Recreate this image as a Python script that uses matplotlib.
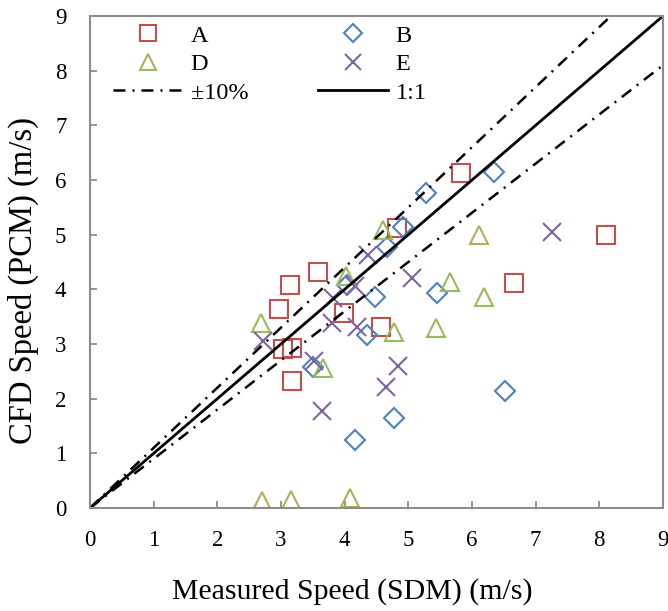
#!/usr/bin/python3

import matplotlib
matplotlib.use('Agg')
import matplotlib.pyplot as plt
import numpy as np

########################################################################################
# data (measured vs CFD speed, m/s)
a_x = [2.97, 3.14, 3.58, 3.03, 3.17, 3.17, 3.99, 4.57, 4.82, 5.83, 8.10, 6.66]
a_y = [3.64, 4.08, 4.31, 2.91, 2.93, 2.32, 3.56, 3.31, 5.12, 6.12, 4.99, 4.11]

b_x = [3.50, 4.04, 4.16, 4.35, 4.48, 4.66, 4.77, 4.92, 5.28, 5.45, 6.35, 6.52]
b_y = [2.58, 4.08, 1.24, 3.16, 3.86, 4.77, 1.65, 5.14, 5.76, 3.93, 6.14, 2.14]

d_x = [2.69, 2.70, 3.16, 3.66, 4.02, 4.08, 4.60, 4.77, 5.43, 5.65, 6.11, 6.19]
d_y = [3.38, 0.13, 0.15, 2.56, 4.24, 0.18, 5.08, 3.22, 3.29, 4.13, 4.99, 3.86]

e_x = [2.72, 3.52, 3.64, 3.80, 3.82, 4.16, 4.19, 4.37, 4.65, 4.84, 5.06, 7.26]
e_y = [3.05, 2.69, 1.77, 3.38, 3.84, 4.06, 3.31, 4.63, 2.21, 2.60, 4.20, 5.05]

ref_x = [0., 9.]
tol = 0.10

########################################################################################
plt.rcParams['font.family'] = ['Liberation Serif', 'DejaVu Serif']

fig = plt.figure(figsize=(6.68, 6.11), dpi=100)
ax = fig.add_axes([90/668., 1 - 508/611., 573/668., 492/611.])

mew = 1.5
hA, = ax.plot(a_x, a_y, 's', ms=13, mfc='none', mec='#C0504D', mew=mew, label='A')
hB, = ax.plot(b_x, b_y, 'D', ms=10, mfc='none', mec='#4F81BD', mew=mew, label='B')
hD, = ax.plot(d_x, d_y, '^', ms=13.5, mfc='none', mec='#9BBB59', mew=mew, label='D')
hE, = ax.plot(e_x, e_y, 'x', ms=13.5, mec='#8064A2', mew=mew, label='E')

rx = np.array(ref_x)
dd = (4.8, 2.8, 0.8, 2.8)
hTol, = ax.plot(rx, rx * (1 + tol), color='black', lw=1.8, dashes=dd, label='\u00b110%')
ax.plot(rx, rx * (1 - tol), color='black', lw=1.8, dashes=dd)
h11, = ax.plot(rx, rx, color='black', lw=2.0, label='1:1')

ax.set_xlim(0, 9)
ax.set_ylim(0, 9)
ax.set_xticks(range(0, 10))
ax.set_yticks(range(0, 10))

for s in ax.spines.values():
    s.set_color('#8c8c8c')
    s.set_linewidth(1.5)
ax.tick_params(direction='in', length=5, width=1.3, color='#8c8c8c', labelsize=16.5)
ax.tick_params(axis='y', pad=17)
ax.tick_params(axis='x', pad=16)

ax.set_xlabel('Measured Speed (SDM) (m/s)', fontsize=21.5, va='center', ha='center')
ax.set_ylabel('CFD Speed (PCM) (m/s)', fontsize=23.5, va='center', ha='center')
# label centres (pixels 352,592 and 23,281 in the figure)
ax.xaxis.set_label_coords((352 - 90) / 573., -(592 - 508) / 492.)
ax.yaxis.set_label_coords(-(90 - 23) / 573., (508 - 281) / 492.)

ax.legend([hA, hD, hTol, hB, hE, h11], ['A', 'D', '\u00b110%', 'B', 'E', '1:1'],
          ncol=2, loc='upper left', bbox_to_anchor=(0.04, 0.982), frameon=False,
          fontsize=17.5, handlelength=2.9, handletextpad=0.3, columnspacing=2.85,
          labelspacing=0.26, borderpad=0, borderaxespad=0, markerscale=0.9)

plt.savefig('out.png', dpi=100)
